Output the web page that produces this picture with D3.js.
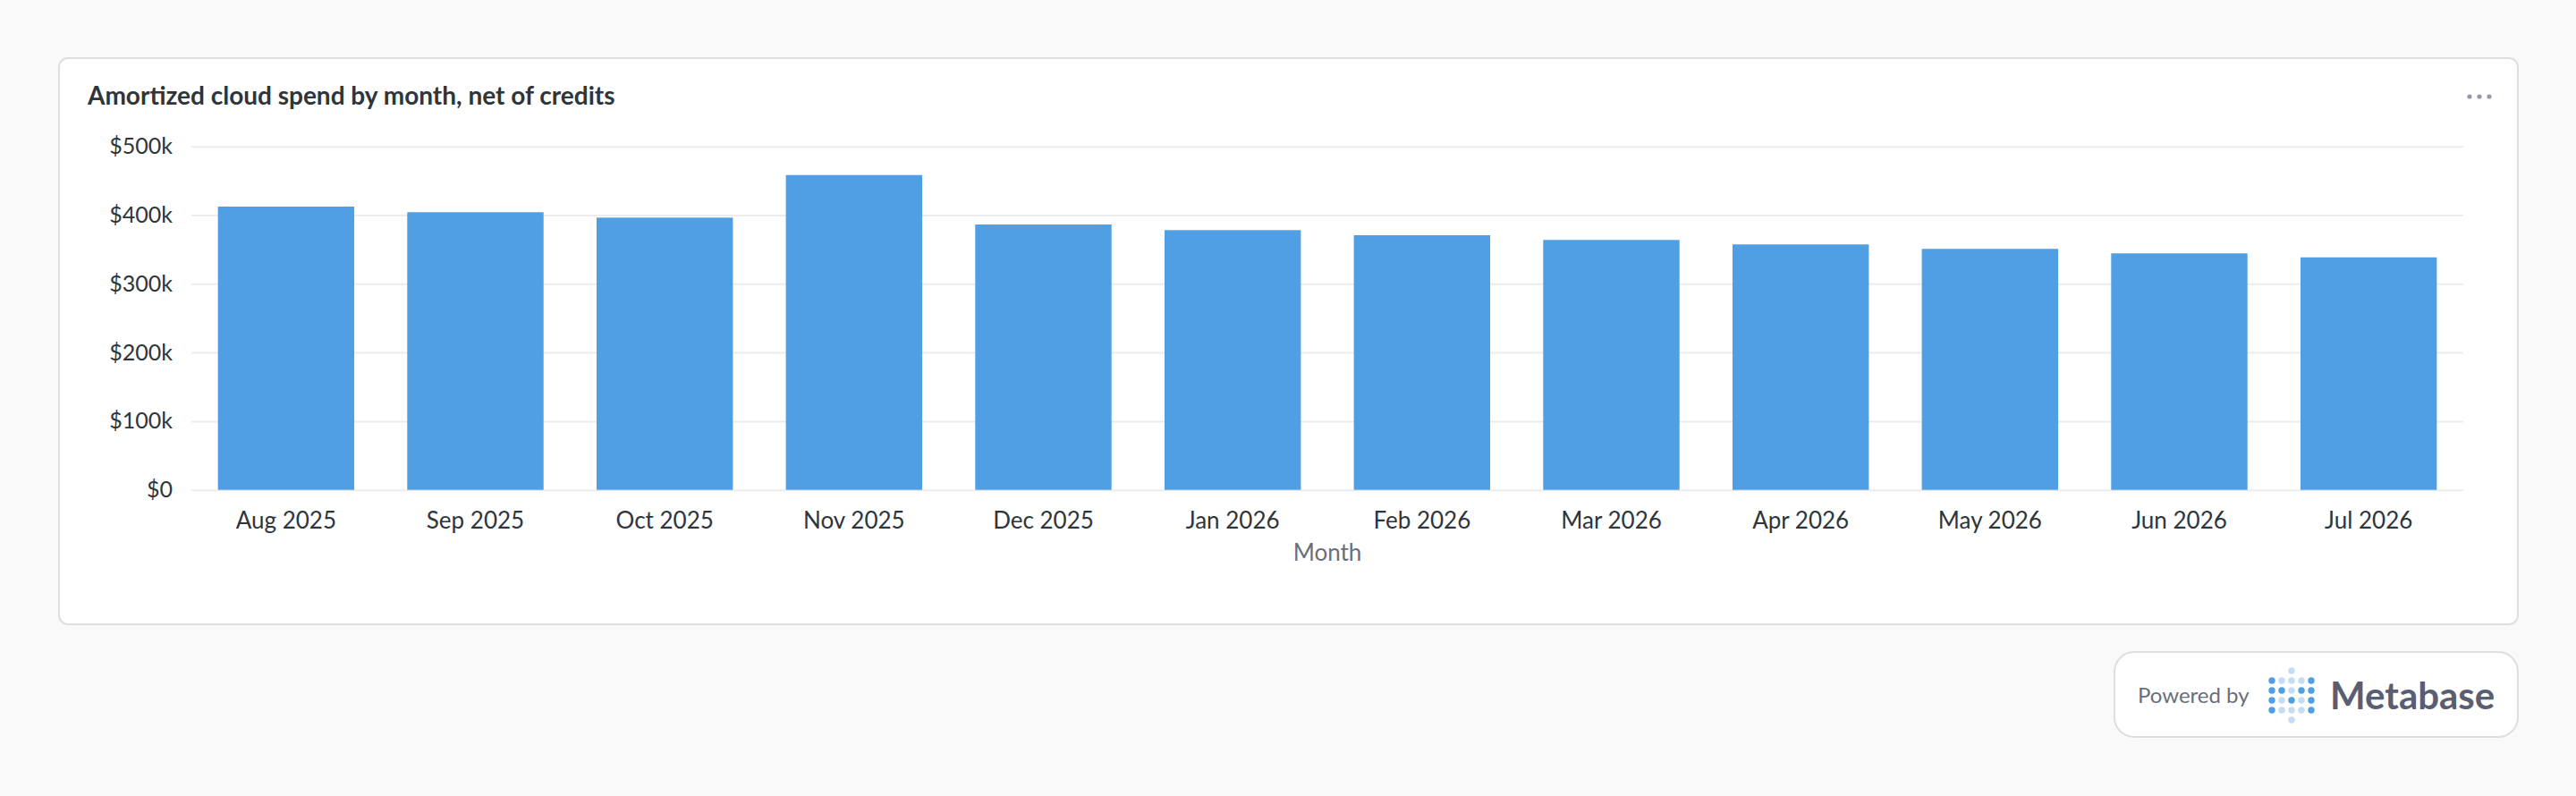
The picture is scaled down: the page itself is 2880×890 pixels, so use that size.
<!DOCTYPE html>
<html lang="en">
<head>
    <meta charset="UTF-8">
    <title>Amortized cloud spend by month</title>
    <style>
        html, body { margin: 0; padding: 0; background: #f9f9f9; }
        svg { display: block; font-family: Lato, "Open Sans", sans-serif; }
    </style>
</head>
<body>
<script src="https://cdn.jsdelivr.net/npm/d3@7"></script>
<script>
    // data
    let months = ["Aug 2025","Sep 2025","Oct 2025","Nov 2025","Dec 2025","Jan 2026",
                  "Feb 2026","Mar 2026","Apr 2026","May 2026","Jun 2026","Jul 2026"];
    let spend = [412400, 404200, 396300, 458300, 386300, 378100,
                 370700, 363800, 357300, 350800, 344300, 338500];
    let yTicks = [0, 100000, 200000, 300000, 400000, 500000];

    let width = 2880;
    let height = 890;
    let svg = d3.select("body").append("svg")
        .attr("width", width)
        .attr("height", height);

    // card
    svg.append("rect")
        .attr("x", 66).attr("y", 65)
        .attr("width", 2749).attr("height", 633)
        .attr("rx", 10)
        .attr("fill", "#fff")
        .attr("stroke", "#dcdfe0")
        .attr("stroke-width", 2);

    svg.append("text")
        .attr("x", 98).attr("y", 117)
        .attr("font-size", 28)
        .attr("font-weight", 700)
        .attr("fill", "#2e353b")
        .text("Amortized cloud spend by month, net of credits");

    svg.selectAll("circle.menu")
        .data([0, 1, 2])
        .enter().append("circle")
        .attr("class", "menu")
        .attr("cx", d => 2761 + d * 11)
        .attr("cy", 108)
        .attr("r", 2.6)
        .attr("fill", "#949aab");

    let plot = {left: 214, right: 2754, top: 163.7, bottom: 547.7};

    let x = d3.scaleBand()
        .domain(months)
        .range([plot.left, plot.right])
        .paddingInner(0.28)
        .paddingOuter(0.14);
    let y = d3.scaleLinear()
        .domain([0, 500000])
        .range([plot.bottom, plot.top]);

    let fmt = d => d === 0 ? "$0" : "$" + (d / 1000) + "k";

    let yAxis = svg.append("g")
        .attr("transform", "translate(" + plot.left + ",0)")
        .call(d3.axisLeft(y).tickValues(yTicks).tickFormat(fmt)
            .tickSize(-(plot.right - plot.left)).tickPadding(21));
    yAxis.select(".domain").remove();
    yAxis.selectAll("line").attr("stroke", "#ececec").attr("stroke-width", 2);
    yAxis.selectAll("text")
        .attr("font-size", 25)
        .attr("font-family", "Lato")
        .attr("fill", "#2e353b");

    svg.selectAll("rect.bar")
        .data(spend)
        .enter().append("rect")
        .attr("class", "bar")
        .attr("x", (d, i) => x(months[i]))
        .attr("y", d => y(d))
        .attr("width", x.bandwidth())
        .attr("height", d => y(0) - y(d))
        .attr("fill", "#509ee3");

    let xAxis = svg.append("g")
        .attr("transform", "translate(0," + plot.bottom + ")")
        .call(d3.axisBottom(x).tickSize(0).tickPadding(25));
    xAxis.select(".domain").remove();
    xAxis.selectAll("text")
        .attr("font-size", 26)
        .attr("font-family", "Lato")
        .attr("fill", "#2e353b");

    svg.append("text")
        .attr("x", (plot.left + plot.right) / 2)
        .attr("y", 627)
        .attr("text-anchor", "middle")
        .attr("font-size", 26)
        .attr("fill", "#696e7b")
        .text("Month");

    // powered by badge
    svg.append("rect")
        .attr("x", 2364).attr("y", 729)
        .attr("width", 451).attr("height", 95)
        .attr("rx", 22)
        .attr("fill", "#fff")
        .attr("stroke", "#dcdfe0")
        .attr("stroke-width", 2);

    svg.append("text")
        .attr("x", 2390).attr("y", 786)
        .attr("font-size", 24)
        .attr("fill", "#696e7b")
        .text("Powered by");

    // logo dots, 1 = dark, 2 = light
    let logo = [
        [0, 0, 2, 0, 0],
        [1, 2, 2, 2, 1],
        [1, 1, 2, 1, 1],
        [1, 2, 1, 2, 1],
        [1, 2, 2, 2, 1],
        [0, 0, 2, 0, 0]
    ];
    let dots = [];
    logo.forEach((row, r) => row.forEach((v, c) => {
        if (v) dots.push({r: r, c: c, v: v});
    }));
    svg.selectAll("circle.logo")
        .data(dots)
        .enter().append("circle")
        .attr("class", "logo")
        .attr("cx", d => 2540 + d.c * 11)
        .attr("cy", d => 750 + d.r * 11)
        .attr("r", 3.7)
        .attr("fill", d => d.v === 1 ? "#509ee3" : "#c5ddf4");

    svg.append("text")
        .attr("x", 2605).attr("y", 793)
        .attr("font-size", 42)
        .attr("font-weight", 700)
        .attr("fill", "#595f73")
        .text("Metabase");
</script>
</body>
</html>
